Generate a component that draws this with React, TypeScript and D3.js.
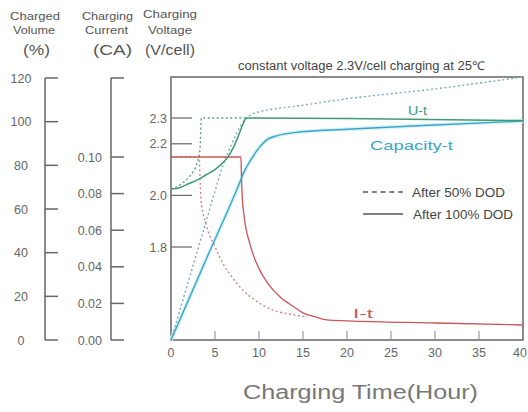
import * as d3 from "d3";

// time (h), value pairs
const uFull: [number, number][] = [
  [0, 2.025], [1, 2.03], [2, 2.045], [3, 2.06], [4, 2.08], [5, 2.1], [6, 2.13],
  [6.5, 2.15], [7, 2.18], [7.6, 2.226], [8.1, 2.27], [8.6, 2.3], [20, 2.298], [40, 2.29],
];
const uHalf: [number, number][] = [
  [0, 2.025], [1, 2.04], [2, 2.07], [2.5, 2.09], [3.0, 2.13], [3.3, 2.18], [3.45, 2.3], [8.6, 2.3],
];
const capFull: [number, number][] = [
  [0, 0], [4, 37], [7.8, 72], [8.3, 77], [9, 82], [10, 88], [11, 92], [12, 93.5],
  [14, 95], [20, 96.5], [30, 98.5], [40, 100.3],
];
const capHalf: [number, number][] = [
  [0, 0], [2.5, 34], [4.7, 64], [5.9, 80], [6.7, 88], [7.5, 95], [8.4, 101], [9, 103],
  [10, 104.5], [12, 106], [14, 107], [20, 110.5], [30, 115], [40, 120.5],
];
const iFull: [number, number][] = [
  [0, 0.1], [7.95, 0.1], [8.0, 0.09], [8.1, 0.078], [8.3, 0.068], [9, 0.052], [10, 0.039],
  [11, 0.031], [12.4, 0.0235], [14, 0.018], [15, 0.0148], [16.5, 0.0125], [17.7, 0.011],
  [20, 0.0105], [30, 0.0093], [40, 0.0082],
];
const iHalf: [number, number][] = [
  [0, 0.1], [3.2, 0.1], [3.3, 0.088], [3.4, 0.077], [4, 0.063], [5, 0.051], [6, 0.041],
  [7, 0.034], [8.2, 0.027], [9.5, 0.022], [11, 0.0175], [14, 0.0137], [15.5, 0.0125],
];

const timeTicks = [0, 5, 10, 15, 20, 25, 30, 35, 40];
const voltTicks = [1.8, 2.0, 2.2, 2.3];
const volTicks = [0, 20, 40, 60, 80, 100, 120];
const curTicks = [0, 0.02, 0.04, 0.06, 0.08, 0.1];

const font = "'Liberation Sans', Arial, sans-serif";
const axisColor = "#666";
const tickText = "#666";
const textColor = "#555";
const green = "#3f9a72";
const cyan = "#3aa6c6";
const red = "#c9555a";

// text stretched to the width it has in the picture
function T({ x0, x1, y, size, fill, children }: { x0: number; x1: number; y: number; size: number; fill: string; children: string }) {
  return (
    <text x={x0} y={y} fontSize={size} fill={fill} textLength={x1 - x0} lengthAdjust="spacingAndGlyphs">
      {children}
    </text>
  );
}

export default function App() {
  const x = d3.scaleLinear().domain([0, 40]).range([171, 523]);
  const yV = d3.scaleLinear().domain([1.8, 2.3]).range([247, 118]);
  const yVol = d3.scaleLinear().domain([0, 120]).range([340, 78]);
  const yI = d3.scaleLinear().domain([0, 0.1]).range([340, 157]);

  const mk = (y: d3.ScaleLinear<number, number>) =>
    d3.line<[number, number]>().x((d) => x(d[0])).y((d) => y(d[1])).curve(d3.curveMonotoneX);

  const top = 77;
  const bottom = 340;

  return (
    <svg width={528} height={412} style={{ position: "absolute", left: 0, top: 0 }} fontFamily={font}>
      <rect width={528} height={412} fill="#fff" />

      {/* column headers */}
      <T x0={10} x1={60} y={20} size={11.5} fill={textColor}>Charged</T>
      <T x0={13} x1={55} y={34} size={11.5} fill={textColor}>Volume</T>
      <T x0={23} x1={50} y={55} size={14.5} fill={textColor}>(%)</T>
      <T x0={82} x1={133} y={20} size={11.5} fill={textColor}>Charging</T>
      <T x0={85} x1={128} y={34} size={11.5} fill={textColor}>Current</T>
      <T x0={93} x1={132} y={55} size={14.5} fill={textColor}>(CA)</T>
      <T x0={143} x1={197} y={18} size={11.5} fill={textColor}>Charging</T>
      <T x0={148} x1={192} y={34} size={11.5} fill={textColor}>Voltage</T>
      <T x0={145} x1={195} y={55} size={14.5} fill={textColor}>(V/cell)</T>

      {/* volume axis */}
      <line x1={45} x2={45} y1={yVol(120)} y2={yVol(0)} stroke={axisColor} strokeWidth={1.5} />
      {volTicks.map((t) => (
        <g key={"v" + t}>
          <line x1={45} x2={58} y1={yVol(t)} y2={yVol(t)} stroke={axisColor} strokeWidth={1.5} />
          <text x={21} y={yVol(t) + 4.5} fontSize={12.5} fill={tickText} textAnchor="middle">{t}</text>
        </g>
      ))}

      {/* current axis */}
      <line x1={111} x2={111} y1={yVol(120)} y2={yI(0)} stroke={axisColor} strokeWidth={1.5} />
      <line x1={111} x2={124} y1={yVol(120)} y2={yVol(120)} stroke={axisColor} strokeWidth={1.5} />
      {curTicks.map((t) => (
        <g key={"c" + t}>
          <line x1={111} x2={124} y1={yI(t)} y2={yI(t)} stroke={axisColor} strokeWidth={1.5} />
          <text x={102} y={yI(t) + 4.5} fontSize={12.5} fill={tickText} textAnchor="end">{t.toFixed(2)}</text>
        </g>
      ))}

      {/* plot frame */}
      <rect x={171} y={top} width={523 - 171} height={bottom - top} fill="none" stroke={axisColor} strokeWidth={1.5} />
      {voltTicks.map((t) => (
        <g key={"u" + t}>
          <line x1={171} x2={192} y1={yV(t)} y2={yV(t)} stroke={axisColor} strokeWidth={1.2} />
          <text x={167} y={yV(t) + 4.5} fontSize={12.5} fill={tickText} textAnchor="end">{t.toFixed(1)}</text>
        </g>
      ))}
      {timeTicks.map((t) => (
        <g key={"t" + t}>
          {t > 0 && t < 40 && (
            <line x1={x(t)} x2={x(t)} y1={bottom} y2={bottom - 9} stroke="#888" strokeWidth={1} />
          )}
          <text
            x={t === 40 ? 527 : x(t)}
            y={357}
            fontSize={12.5}
            fill={tickText}
            textAnchor={t === 40 ? "end" : "middle"}
          >
            {t}
          </text>
        </g>
      ))}

      <T x0={238} x1={485} y={70} size={12} fill="#444">constant voltage 2.3V/cell charging at 25℃</T>

      {/* curves */}
      <g fill="none" strokeLinejoin="round">
        <path d={mk(yVol)(capFull) || ""} stroke="#d8f2f8" strokeWidth={4} />
        <path d={mk(yVol)(capHalf)!} stroke="#7aa8bc" strokeWidth={1.4} strokeDasharray="2,2.5" />
        <path d={mk(yV)(uHalf)!} stroke="#5a9f80" strokeWidth={1.4} strokeDasharray="2,2.5" />
        <path d={mk(yI)(iHalf)!} stroke="#d08484" strokeWidth={1.4} strokeDasharray="2,2.5" />
        <path d={mk(yI)(iFull)!} stroke={red} strokeWidth={1.3} />
        <path d={mk(yVol)(capFull)!} stroke={cyan} strokeWidth={1.4} />
        <path d={mk(yV)(uFull)!} stroke={green} strokeWidth={1.5} />
      </g>

      {/* curve labels */}
      <T x0={408} x1={427} y={115} size={13} fill={green}>U-t</T>
      <T x0={370} x1={453} y={150} size={13.5} fill={cyan}>Capacity-t</T>
      <T x0={353} x1={373} y={318} size={13.5} fill={red}>I-t</T>

      {/* legend */}
      <line x1={363} x2={403} y1={192} y2={192} stroke="#555" strokeWidth={1.3} strokeDasharray="5,3.8" />
      <T x0={412} x1={505} y={197} size={13} fill="#444">After 50% DOD</T>
      <line x1={363} x2={403} y1={214} y2={214} stroke="#555" strokeWidth={1.3} />
      <T x0={413} x1={513} y={219} size={13} fill="#444">After 100% DOD</T>

      <T x0={243} x1={478} y={399} size={20} fill="#777">Charging Time(Hour)</T>
    </svg>
  );
}
